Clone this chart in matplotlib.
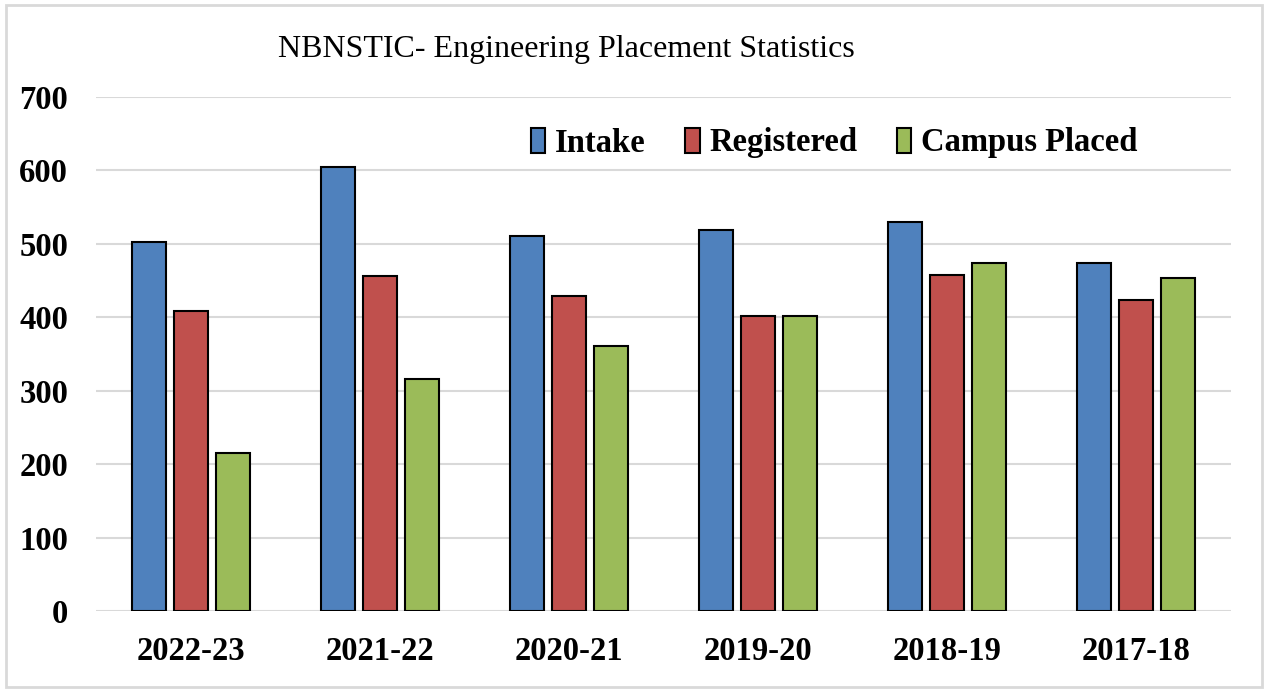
import numpy as np
import matplotlib.pyplot as plt
from matplotlib.patches import Rectangle

# Data
years = ["2022-23", "2021-22", "2020-21", "2019-20", "2018-19", "2017-18"]
intake = [502, 605, 511, 519, 530, 474]
registered = [408, 456, 429, 402, 457, 424]
campus_placed = [215, 316, 361, 402, 474, 454]

plt.rcParams['font.family'] = ['Liberation Serif', 'DejaVu Serif']

fig = plt.figure(figsize=(12.67, 6.93), dpi=100)
ax = fig.add_axes([96/1267, 82/693, 1135/1267, 514/693])

x = np.arange(len(years))
w = 0.18
step = 0.222
ax.bar(x - step, intake, w, color="#4f81bd", edgecolor="black", linewidth=1.5, label="Intake", zorder=3)
ax.bar(x, registered, w, color="#c0504d", edgecolor="black", linewidth=1.5, label="Registered", zorder=3)
ax.bar(x + step, campus_placed, w, color="#9bbb59", edgecolor="black", linewidth=1.5, label="Campus Placed", zorder=3)

ax.set_xlim(-0.5, len(years) - 0.5)
ax.set_ylim(0, 700)
ax.set_yticks(range(0, 701, 100))
ax.set_xticks(x)
ax.set_xticklabels(years)
ax.yaxis.grid(True, color="#d9d9d9", linewidth=1.5, zorder=0)
for s in ax.spines.values():
    s.set_visible(False)
ax.tick_params(axis='both', length=0, labelsize=23.5)
ax.tick_params(axis='y', pad=20)
ax.tick_params(axis='x', pad=18)
for lab in ax.get_xticklabels() + ax.get_yticklabels():
    lab.set_fontweight('bold')

leg = ax.legend(loc='center', bbox_to_anchor=(834/1267, 1 - 143/693), bbox_transform=fig.transFigure,
                ncol=3, frameon=False, handlelength=0.45, handleheight=0.8, handletextpad=0.3,
                columnspacing=1.2, prop={'size': 23.5, 'weight': 'bold'})

fig.text(278/1267, 1 - 50/693, "NBNSTIC- Engineering Placement Statistics", fontsize=23, va='center', ha='left')

fig.patches.append(Rectangle((6/1267, 6/693), 1256/1267, 682/693, transform=fig.transFigure,
                             fill=False, edgecolor="#d9d9d9", linewidth=2))

fig.savefig("out.png", dpi=100)
